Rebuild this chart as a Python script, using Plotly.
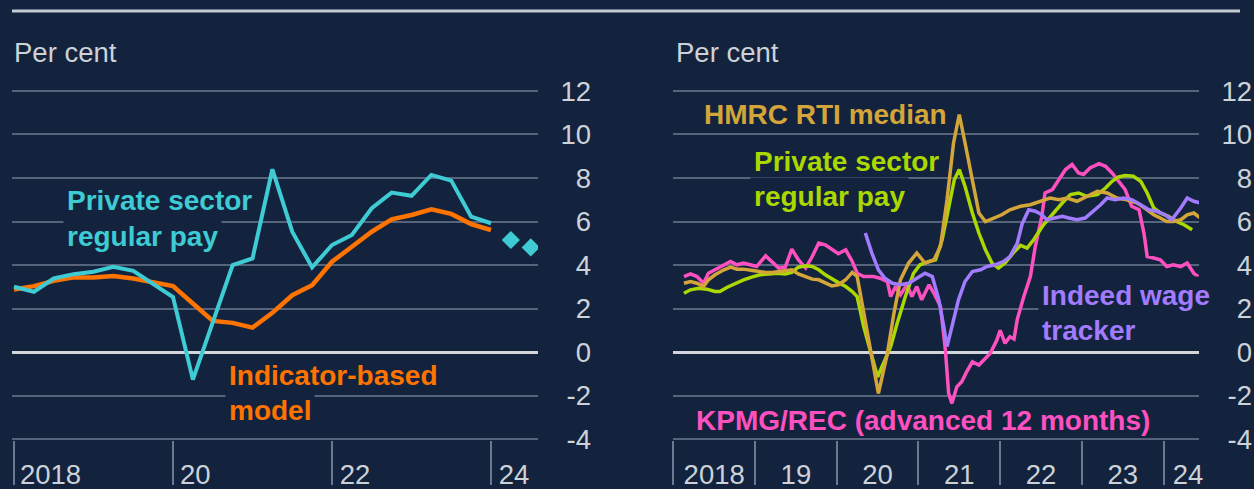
import plotly.graph_objects as go

# ---------------- data ----------------
# left panel: quarterly, per cent
quarters = ['2018Q1', '2018Q2', '2018Q3', '2018Q4', '2019Q1', '2019Q2', '2019Q3', '2019Q4',
            '2020Q1', '2020Q2', '2020Q3', '2020Q4', '2021Q1', '2021Q2', '2021Q3', '2021Q4',
            '2022Q1', '2022Q2', '2022Q3', '2022Q4', '2023Q1', '2023Q2', '2023Q3', '2023Q4',
            '2024Q1']
private_regular = [3.0, 2.77, 3.38, 3.58, 3.69, 3.92, 3.73, 3.15,
                   2.53, -1.27, 1.4, 4.0, 4.3, 8.4, 5.53, 3.89,
                   4.92, 5.38, 6.61, 7.33, 7.18, 8.14, 7.88, 6.22,
                   5.92]
indicator_model = [2.87, 3.03, 3.27, 3.43, 3.43, 3.49, 3.38, 3.23,
                   3.03, 2.23, 1.43, 1.34, 1.12, 1.8, 2.61, 3.07,
                   4.15, 4.84, 5.53, 6.1, 6.3, 6.56, 6.35, 5.88,
                   5.61]
projection_q = ['2024Q2', '2024Q3']
projection = [5.15, 4.81]

# right panel: monthly-ish readings, x in decimal years
kpmg_x = [2018.13, 2018.21, 2018.29, 2018.37, 2018.43, 2018.51, 2018.62, 2018.70, 2018.78, 2018.86,
          2018.94, 2019.02, 2019.13, 2019.21, 2019.29, 2019.37, 2019.45, 2019.53, 2019.62, 2019.70,
          2019.78, 2019.86, 2019.94, 2020.02, 2020.11, 2020.19, 2020.25, 2020.33, 2020.45, 2020.53,
          2020.62, 2020.66, 2020.72, 2020.78, 2020.86, 2020.92, 2020.98, 2021.04, 2021.13, 2021.19,
          2021.27, 2021.33, 2021.37, 2021.41, 2021.47, 2021.53, 2021.59, 2021.66, 2021.74, 2021.82,
          2021.88, 2021.96, 2022.00, 2022.06, 2022.12, 2022.17, 2022.21, 2022.29, 2022.37, 2022.43,
          2022.51, 2022.55, 2022.64, 2022.72, 2022.80, 2022.88, 2022.96, 2023.02, 2023.10, 2023.21,
          2023.29, 2023.37, 2023.45, 2023.53, 2023.61, 2023.70, 2023.76, 2023.80, 2023.88, 2023.96,
          2024.04, 2024.12, 2024.21, 2024.29, 2024.37, 2024.45]
kpmg_y = [3.47, 3.59, 3.47, 3.16, 3.62, 3.78, 3.96, 4.16, 4.01, 4.09,
          4.01, 3.93, 4.42, 4.16, 3.86, 3.90, 4.73, 4.24, 3.86, 4.39,
          5.01, 4.93, 4.73, 4.52, 4.70, 4.16, 3.62, 3.47, 3.47, 3.39,
          3.24, 2.55, 3.01, 2.63, 3.09, 2.55, 3.01, 2.40, 3.09, 2.70,
          2.09, 0.09, -1.90, -2.36, -1.60, -1.37, -0.91, -0.45, -0.60, -0.29,
          -0.06, 0.55, 1.0, 0.4, 0.7, 0.6, 1.5, 2.55, 3.47, 4.85,
          6.24, 7.31, 7.47, 7.93, 8.39, 8.62, 8.23, 8.16, 8.46, 8.66,
          8.54, 8.23, 7.85, 7.47, 6.70, 6.54, 5.47, 4.39, 4.32, 4.24,
          3.93, 4.01, 3.93, 4.09, 3.62, 3.39]

rti_x = [2018.13, 2018.21, 2018.29, 2018.37, 2018.43, 2018.51, 2018.62, 2018.70, 2018.78, 2018.86,
         2018.97, 2019.05, 2019.13, 2019.21, 2019.29, 2019.37, 2019.45, 2019.53, 2019.62, 2019.70,
         2019.78, 2019.86, 2019.94, 2020.02, 2020.11, 2020.19, 2020.25, 2020.51, 2020.62, 2020.70,
         2020.78, 2020.88, 2020.98, 2021.08, 2021.19, 2021.27, 2021.35, 2021.43, 2021.50, 2021.57,
         2021.66, 2021.74, 2021.82, 2021.92, 2022.02, 2022.12, 2022.25, 2022.37, 2022.49, 2022.61,
         2022.72, 2022.82, 2022.94, 2023.06, 2023.19, 2023.31, 2023.43, 2023.55, 2023.68, 2023.80,
         2023.88, 2023.96, 2024.04, 2024.12, 2024.21, 2024.29, 2024.37, 2024.45]
rti_y = [3.16, 3.24, 3.16, 3.01, 3.32, 3.55, 3.78, 3.90, 3.81, 3.81,
         3.75, 3.70, 3.66, 3.66, 3.70, 3.75, 3.78, 3.59, 3.47, 3.35,
         3.32, 3.19, 3.04, 3.09, 3.32, 3.66, 3.47, -1.90, -0.06, 1.78,
         3.32, 4.09, 4.55, 4.09, 4.24, 4.85, 7.0, 9.62, 10.92, 9.62,
         7.93, 6.39, 6.0, 6.16, 6.31, 6.54, 6.70, 6.77, 6.93, 7.08,
         7.0, 7.08, 6.93, 7.16, 7.39, 7.31, 7.08, 7.0, 6.85, 6.54,
         6.31, 6.16, 6.0, 6.0, 6.08, 6.31, 6.39, 6.16]

awe_x = [2018.13, 2018.21, 2018.31, 2018.41, 2018.51, 2018.57, 2018.66, 2018.76, 2018.86, 2018.96,
         2019.06, 2019.17, 2019.27, 2019.37, 2019.45, 2019.53, 2019.62, 2019.70, 2019.78, 2019.86,
         2019.94, 2020.02, 2020.11, 2020.19, 2020.25, 2020.29, 2020.33, 2020.50, 2020.66, 2020.74,
         2020.84, 2020.94, 2021.02, 2021.13, 2021.21, 2021.29, 2021.37, 2021.44, 2021.50, 2021.57,
         2021.66, 2021.74, 2021.82, 2021.90, 2021.98, 2022.06, 2022.17, 2022.25, 2022.33, 2022.41,
         2022.53, 2022.65, 2022.76, 2022.86, 2022.96, 2023.06, 2023.19, 2023.29, 2023.37, 2023.45,
         2023.53, 2023.63, 2023.72, 2023.80, 2023.88, 2023.96, 2024.06, 2024.16, 2024.25, 2024.35]
awe_y = [2.70, 2.86, 2.93, 2.89, 2.78, 2.78, 2.98, 3.16, 3.32, 3.44,
         3.55, 3.59, 3.62, 3.59, 3.66, 3.90, 3.96, 3.93, 3.78, 3.55,
         3.35, 3.19, 3.01, 2.78, 2.55, 1.94, 1.17, -1.15, 0.25, 1.32,
         2.55, 3.62, 4.01, 4.16, 4.24, 5.16, 6.70, 7.93, 8.39, 7.62,
         6.39, 5.47, 4.70, 4.09, 3.86, 4.09, 4.6, 4.9, 4.78, 5.16,
         5.85, 6.39, 6.85, 7.24, 7.31, 7.16, 7.24, 7.54, 7.85, 8.05,
         8.11, 8.08, 7.85, 7.31, 6.62, 6.39, 6.24, 6.0, 5.85, 5.62]

indeed_x = [2020.35, 2020.43, 2020.51, 2020.59, 2020.68, 2020.78, 2020.88, 2020.98, 2021.08, 2021.17,
            2021.25, 2021.31, 2021.35, 2021.41, 2021.49, 2021.57, 2021.66, 2021.76, 2021.84, 2021.94,
            2022.04, 2022.12, 2022.21, 2022.27, 2022.35, 2022.43, 2022.51, 2022.57, 2022.65, 2022.76,
            2022.84, 2022.94, 2023.04, 2023.14, 2023.23, 2023.31, 2023.41, 2023.51, 2023.61, 2023.72,
            2023.82, 2023.92, 2024.02, 2024.10, 2024.21, 2024.29, 2024.37, 2024.45]
indeed_y = [5.47, 4.55, 3.78, 3.39, 3.16, 3.09, 3.16, 3.39, 3.62, 3.47,
            2.40, 1.17, 0.25, 1.17, 2.40, 3.24, 3.70, 3.78, 3.93, 4.01,
            4.16, 4.39, 5.01, 5.9, 6.54, 6.47, 6.31, 6.08, 6.16, 6.24,
            6.16, 6.08, 6.16, 6.47, 6.77, 7.08, 7.0, 7.08, 7.0, 6.77,
            6.54, 6.47, 6.31, 6.08, 6.62, 7.08, 6.93, 6.85]

y_ticks = [-4, -2, 0, 2, 4, 6, 8, 10, 12]
y_tick_text = ['-4', '-2', '0', '2', '4', '6', '8', '10', '12']
left_year_ticks = [2018, 2020, 2022, 2024]
left_year_labels = ['2018', '20', '22', '24']
right_year_ticks = [2018, 2019, 2020, 2021, 2022, 2023, 2024]
right_year_labels = ['2018', '19', '20', '21', '22', '23', '24']


def q_to_year(q):
    return int(q[:4]) + (int(q[-1]) - 1) / 4


# ---------------- style ----------------
W, H = 1254, 489
BG = '#13233e'
GRID = '#55647b'
ZERO = '#d2d6db'
TXT = '#cdd2d8'
FONT = 'Liberation Sans, Arial, sans-serif'
CYAN = '#3fcbd3'
ORANGE = '#ff7300'
GOLD = '#d4a539'
LIME = '#aad800'
PINK = '#ff50c0'
PURPLE = '#a27bff'


def pxx(p):
    return p / W


def pxy(p):
    return 1 - p / H


Y_DOM = [pxy(440.1), pxy(89.9)]
Y_RANGE = [-4.05, 12.05]
L_RANGE = [2017.9748, 2024.5912]
R_RANGE = [2017.996, 2024.434]

fig = go.Figure()

# left panel
fig.add_trace(go.Scatter(x=[q_to_year(q) for q in quarters], y=indicator_model, mode='lines',
                         line=dict(color=ORANGE, width=4.5), xaxis='x', yaxis='y'))
fig.add_trace(go.Scatter(x=[q_to_year(q) for q in quarters], y=private_regular, mode='lines',
                         line=dict(color=CYAN, width=4), xaxis='x', yaxis='y'))
fig.add_trace(go.Scatter(x=[q_to_year(q) for q in projection_q], y=projection, mode='markers',
                         marker=dict(symbol='diamond', size=14, color=CYAN), xaxis='x', yaxis='y'))

# right panel
fig.add_trace(go.Scatter(x=kpmg_x, y=kpmg_y, mode='lines', line=dict(color=PINK, width=3.5),
                         xaxis='x2', yaxis='y2'))
fig.add_trace(go.Scatter(x=awe_x, y=awe_y, mode='lines', line=dict(color=LIME, width=3.5),
                         xaxis='x2', yaxis='y2'))
fig.add_trace(go.Scatter(x=rti_x, y=rti_y, mode='lines', line=dict(color=GOLD, width=3.5),
                         xaxis='x2', yaxis='y2'))
fig.add_trace(go.Scatter(x=indeed_x, y=indeed_y, mode='lines', line=dict(color=PURPLE, width=3.5),
                         xaxis='x2', yaxis='y2'))

# empty traces so the label-only overlay axes get drawn
for xa, ya in (('x3', 'y'), ('x', 'y3'), ('x4', 'y2'), ('x2', 'y4')):
    fig.add_trace(go.Scatter(x=[None], y=[None], mode='lines', xaxis=xa, yaxis=ya,
                             hoverinfo='skip'))

tick_font = dict(family=FONT, size=27.5, color=TXT)

grid_y = dict(domain=Y_DOM, range=Y_RANGE, tickmode='array', tickvals=y_ticks,
              showgrid=True, gridcolor=GRID, gridwidth=2,
              zeroline=True, zerolinecolor=ZERO, zerolinewidth=3,
              showticklabels=False, showline=False, fixedrange=True, automargin=False)
label_y = dict(range=Y_RANGE, tickmode='array', tickvals=y_ticks, ticktext=y_tick_text,
               anchor='free', side='left',
               showgrid=False, zeroline=False, showline=False, ticks='',
               tickfont=tick_font, fixedrange=True, automargin=False)
tick_x = dict(tickmode='array', ticks='outside', ticklen=44, tickwidth=2, tickcolor='#6b7990',
              showticklabels=False, showgrid=False, zeroline=False, showline=False,
              fixedrange=True, automargin=False)
label_x = dict(tickmode='array', ticks='outside', ticklen=10, tickcolor='rgba(0,0,0,0)',
               showgrid=False, zeroline=False, showline=False, tickfont=tick_font,
               fixedrange=True, automargin=False)

fig.update_layout(
    width=W, height=H, autosize=False,
    paper_bgcolor=BG, plot_bgcolor=BG,
    margin=dict(l=0, r=0, t=0, b=0, pad=0, autoexpand=False),
    showlegend=False, hovermode=False,
    font=dict(family=FONT, color=TXT),
    xaxis=dict(domain=[pxx(12), pxx(538)], range=L_RANGE, anchor='y',
               tickvals=left_year_ticks, **tick_x),
    yaxis=dict(anchor='x', **grid_y),
    xaxis3=dict(overlaying='x', anchor='y', range=L_RANGE,
                tickvals=[2018.46, 2020.28, 2022.29, 2024.29], ticktext=left_year_labels, **label_x),
    yaxis3=dict(overlaying='y', position=pxx(591), **label_y),
    xaxis2=dict(domain=[pxx(673), pxx(1199)], range=R_RANGE, anchor='y2',
                tickvals=right_year_ticks, **tick_x),
    yaxis2=dict(anchor='x2', **grid_y),
    xaxis4=dict(overlaying='x2', anchor='y2', range=R_RANGE,
                tickvals=[2018.5, 2019.5, 2020.5, 2021.5, 2022.5, 2023.5, 2024.3],
                ticktext=right_year_labels, **label_x),
    yaxis4=dict(overlaying='y2', position=pxx(1252), **label_y),
)

# top rule
fig.add_shape(type='line', xref='paper', yref='paper', x0=pxx(12), x1=pxx(1240),
              y0=pxy(11), y1=pxy(11), line=dict(color='#c3c9d0', width=3))

# unit labels
for xp in (12, 674):
    fig.add_annotation(text='Per cent', xref='paper', yref='paper', x=pxx(xp), y=pxy(53),
                       xanchor='left', yanchor='middle', showarrow=False,
                       font=dict(family=FONT, size=27.5, color=TXT))

# series labels (x, y in data units; boxed ones hide the gridline behind them)
labels = [
    ('x', 'y', 'Private sector', 2018.615, 6.95, CYAN, False),
    ('x', 'y', 'regular pay', 2018.615, 5.31, CYAN, True),
    ('x', 'y', 'Indicator-based', 2020.653, -1.10, ORANGE, False),
    ('x', 'y', 'model', 2020.653, -2.70, ORANGE, True),
    ('x2', 'y2', 'HMRC RTI median', 2018.326, 10.9, GOLD, False),
    ('x2', 'y2', 'Private sector', 2018.935, 8.75, LIME, False),
    ('x2', 'y2', 'regular pay', 2018.935, 7.14, LIME, True),
    ('x2', 'y2', 'Indeed wage', 2022.466, 2.62, PURPLE, True),
    ('x2', 'y2', 'tracker', 2022.466, 1.01, PURPLE, False),
    ('x2', 'y2', 'KPMG/REC (advanced 12 months)', 2018.229, -3.16, PINK, False),
]
for xr, yr, txt, xv, yv, col, boxed in labels:
    fig.add_annotation(text=txt, xref=xr, yref=yr, x=xv, y=yv, xanchor='left', yanchor='middle',
                       showarrow=False, bgcolor=BG if boxed else None, borderpad=3,
                       font=dict(family=FONT, size=28, color=col, weight='bold'))

fig.write_html("out.html", config={'displayModeBar': False},
               post_script="document.body.style.margin='0';document.body.style.background='#13233e';")
